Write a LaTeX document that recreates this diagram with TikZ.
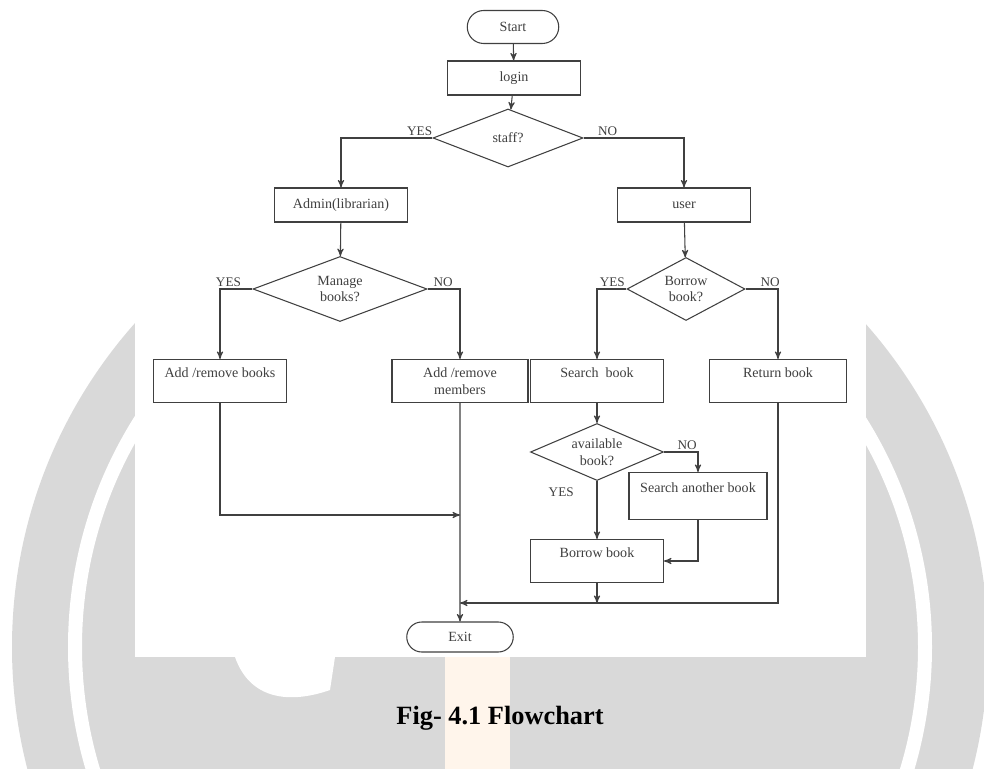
\documentclass[tikz,border=0pt]{standalone}
\usepackage{fontspec}
\setmainfont{Liberation Serif}
\usetikzlibrary{arrows,shapes}

\begin{document}
\begin{tikzpicture}[x=0.2mm,y=-0.2mm,->,>=stealth',line width=0.6pt,color=black!75,font=\fontsize{8}{9.5}\selectfont]
        \tikzstyle{term}=[rounded rectangle, draw, minimum width=19mm, minimum height=6.6mm, inner sep=1pt]
        \tikzstyle{proc}=[rectangle, draw, align=center, minimum width=26.6mm, minimum height=6.8mm, inner sep=1pt]
        \tikzstyle{tall}=[proc, minimum height=8.6mm]
        \tikzstyle{dec}=[diamond, draw, align=center, inner sep=0pt]
        \tikzstyle{lbl}=[font=\fontsize{7.5}{8}\selectfont, above, inner sep=1pt]

        \useasboundingbox (0,0) rectangle (984,769);
        % watermark behind the figure
        \begin{scope}[-]
          \clip (0,0) rectangle (984,769);
          \fill[black!15] (500,647) circle [radius=488];
          \draw[white, line width=2.8mm] (500,647) circle [radius=425];
          \fill[orange!8] (445,657) rectangle (510,769);
          \fill[white] (235,657) .. controls (250,700) and (290,704) .. (330,690) -- (335,657) -- cycle;
          \fill[white] (135,0) rectangle (866,657);
        \end{scope}

        \node[term]                                              (start)     at (513,27)  {Start};
        \node[proc]                                              (login)     at (514,78)  {login};
        \node[dec, aspect=2.6, minimum width=30mm, minimum height=11.6mm]   (staff)     at (508,138) {staff?};
        \node[proc]                                              (admin)     at (341,205) {Admin(librarian)};
        \node[proc]                                              (user)      at (684,205) {user};
        \node[dec, aspect=2.7, minimum width=34.8mm, minimum height=13mm]   (manage)    at (340,289) {Manage\\books?};
        \node[dec, aspect=1.9, minimum width=23.6mm, minimum height=12.6mm] (borrowq)   at (686,289) {Borrow\\book?};
        \node[tall]                                              (addbook)   at (220,381) {Add /remove books\\~};
        \node[tall, minimum width=27.2mm]                        (addmember) at (460,381) {Add /remove\\members};
        \node[tall]                                              (search)    at (597,381) {Search\ \ book\\~};
        \node[tall, minimum width=27.4mm]                        (return)    at (778,381) {Return book\\~};
        \node[dec, aspect=2.3, minimum width=26.6mm, minimum height=11.4mm] (avail)     at (597,452) {available\\book?};
        \node[tall, minimum width=27.6mm, minimum height=9.4mm]  (another)   at (698,496) {Search another book\\~};
        \node[tall]                                              (borrow)    at (597,561) {Borrow book\\~};
        \node[term, minimum width=22mm, minimum height=6mm]      (exit)      at (460,637) {Exit};
        \coordinate (j1) at (460,515);
        \coordinate (j2) at (460,603);

        \path (start)     edge (login)
              (login)     edge (staff)
              (admin)     edge (manage)
              (user)      edge (borrowq)
              (search)    edge (avail)
              (avail)     edge node[lbl, left=12pt, pos=0.2] (yes4) {YES} (borrow)
              (addmember) edge (exit);

        \draw (staff.west)   -| node[lbl, pos=0.07] (yes1) {YES} (admin.north);
        \draw (staff.east)   -| node[lbl, pos=0.12] (no1)  {NO}  (user.north);
        \draw (manage.west)  -| node[lbl, pos=0.37] (yes2) {YES} (addbook.north);
        \draw (manage.east)  -| node[lbl, pos=0.24] (no2)  {NO}  (addmember.north);
        \draw (borrowq.west) -| node[lbl, pos=0.24] (yes3) {YES} (search.north);
        \draw (borrowq.east) -| node[lbl, pos=0.38] (no3)  {NO}  (return.north);
        \draw (avail.east)   -| node[lbl, pos=0.34] (no4)  {NO}  (another.north);
        \draw (another.south) |- (borrow.east);
        \draw (borrow.south) -- (borrow.south |- j2);
        \draw (return.south) |- (j2);
        \draw (addbook.south) |- (j1);

        \node[font=\fontsize{15}{18}\selectfont\bfseries, text=black] (caption) at (500,718) {Fig- 4.1 Flowchart};
\end{tikzpicture}
\end{document}
